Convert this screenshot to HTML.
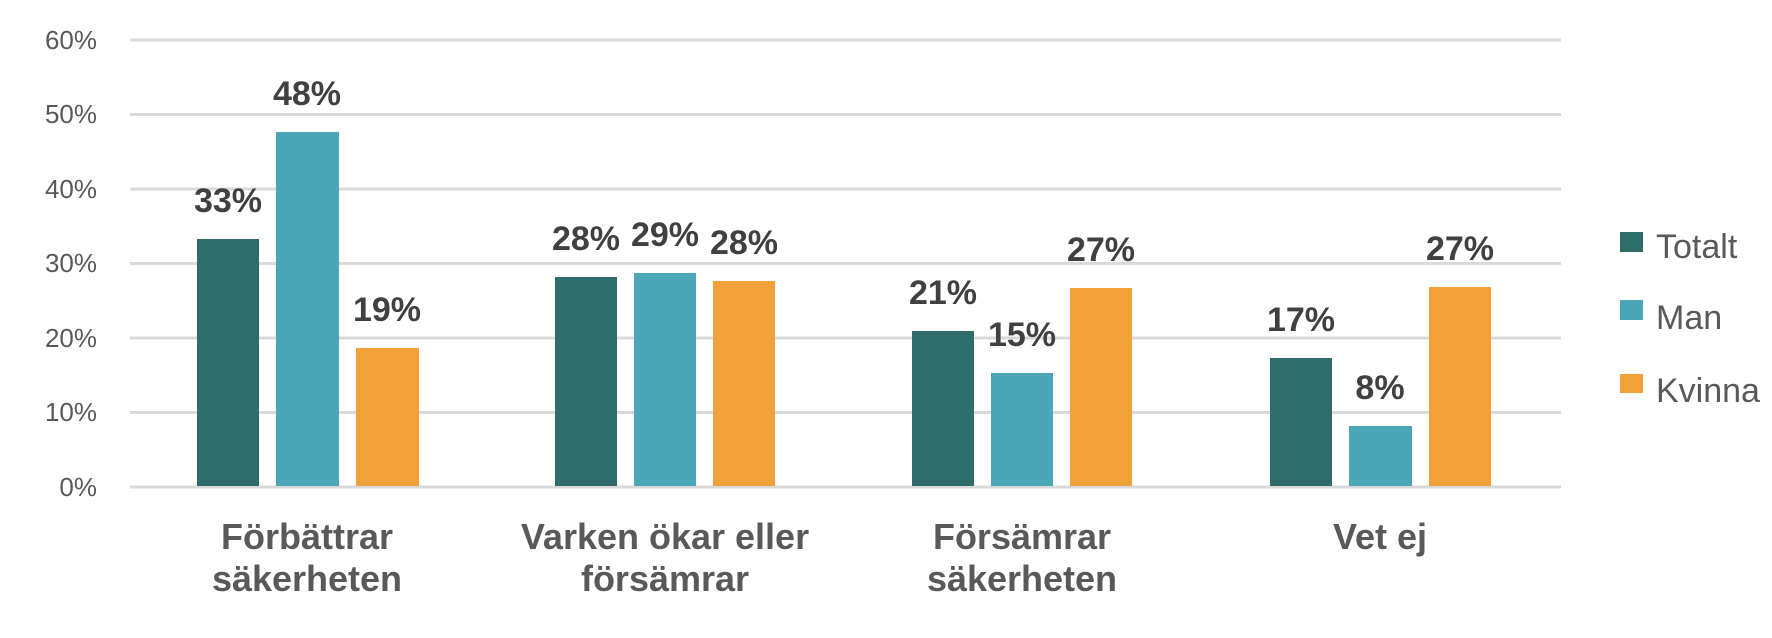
<!DOCTYPE html>
<html><head><meta charset="utf-8"><style>
html,body{margin:0;padding:0;background:#fff;}
svg{display:block;font-family:"Liberation Sans",sans-serif;}
</style></head><body>
<svg width="1772" height="638" viewBox="0 0 1772 638" xmlns="http://www.w3.org/2000/svg">
<g stroke="#d9d9d9" stroke-width="3">
<line x1="130" x2="1561" y1="40" y2="40"/>
<line x1="130" x2="1561" y1="114.5" y2="114.5"/>
<line x1="130" x2="1561" y1="189" y2="189"/>
<line x1="130" x2="1561" y1="263.5" y2="263.5"/>
<line x1="130" x2="1561" y1="338" y2="338"/>
<line x1="130" x2="1561" y1="412.5" y2="412.5"/>
<line x1="130" x2="1561" y1="487" y2="487"/>
</g>
<g fill="#595959" font-size="26" text-anchor="end">
<text x="97" y="49">60%</text>
<text x="97" y="123">50%</text>
<text x="97" y="198">40%</text>
<text x="97" y="272">30%</text>
<text x="97" y="347">20%</text>
<text x="97" y="421">10%</text>
<text x="97" y="496">0%</text>
</g>
<g>
<rect x="197" y="239" width="62" height="247" fill="#2E6D69"/>
<rect x="276" y="132" width="63" height="354" fill="#4BA6B8"/>
<rect x="356" y="348" width="63" height="138" fill="#F0A13A"/>
<rect x="555" y="277" width="62" height="209" fill="#2E6D69"/>
<rect x="634" y="273" width="62" height="213" fill="#4BA6B8"/>
<rect x="713" y="281" width="62" height="205" fill="#F0A13A"/>
<rect x="912" y="331" width="62" height="155" fill="#2E6D69"/>
<rect x="991" y="373" width="62" height="113" fill="#4BA6B8"/>
<rect x="1070" y="288" width="62" height="198" fill="#F0A13A"/>
<rect x="1270" y="358" width="62" height="128" fill="#2E6D69"/>
<rect x="1349" y="426" width="63" height="60" fill="#4BA6B8"/>
<rect x="1429" y="287" width="62" height="199" fill="#F0A13A"/>
</g>
<g fill="#404040" font-size="34" font-weight="bold" text-anchor="middle">
<text x="228" y="212">33%</text>
<text x="307" y="105">48%</text>
<text x="387" y="321">19%</text>
<text x="586" y="250">28%</text>
<text x="665" y="246">29%</text>
<text x="744" y="254">28%</text>
<text x="943" y="304">21%</text>
<text x="1022" y="346">15%</text>
<text x="1101" y="261">27%</text>
<text x="1301" y="331">17%</text>
<text x="1380" y="399">8%</text>
<text x="1460" y="260">27%</text>
</g>
<g fill="#595959" font-size="36" font-weight="bold" text-anchor="middle">
<text x="307" y="549">Förbättrar</text>
<text x="307" y="591">säkerheten</text>
<text x="665" y="549">Varken ökar eller</text>
<text x="665" y="591">försämrar</text>
<text x="1022" y="549">Försämrar</text>
<text x="1022" y="591">säkerheten</text>
<text x="1380" y="549">Vet ej</text>
</g>
<rect x="1620" y="232" width="23" height="20" fill="#2E6D69"/>
<rect x="1620" y="300" width="23" height="20" fill="#4BA6B8"/>
<rect x="1620" y="374" width="23" height="19" fill="#F0A13A"/>
<g fill="#595959" font-size="34">
<text x="1656" y="258">Totalt</text>
<text x="1656" y="329">Man</text>
<text x="1656" y="402">Kvinna</text>
</g>
</svg>
</body></html>
